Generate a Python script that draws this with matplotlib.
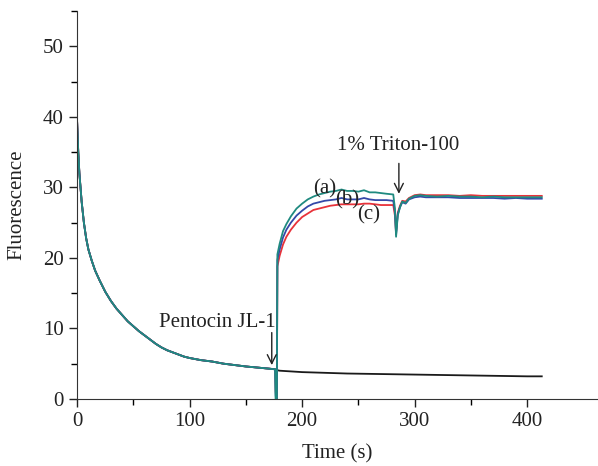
import matplotlib
matplotlib.use('Agg')
import matplotlib.pyplot as plt
from matplotlib.ticker import MultipleLocator, FixedLocator

plt.rcParams['font.family'] = ['Liberation Serif', 'DejaVu Serif']

# shared decay before pentocin addition (s, fluorescence)
t_decay = [0, 1, 2, 3, 4, 6, 8, 10, 13, 16, 20, 25, 30, 35, 40, 45, 50, 55, 60, 65,
           70, 75, 80, 85, 90, 95, 100, 110, 120, 130, 140, 150, 160, 170, 176]
f_decay = [39.2, 35.0, 32.0, 30.0, 28.0, 25.0, 22.8, 21.2, 19.6, 18.2, 16.8, 15.2, 13.9, 12.8,
           11.9, 11.0, 10.3, 9.6, 9.0, 8.4, 7.8, 7.3, 6.9, 6.6, 6.3, 6.0, 5.8, 5.5, 5.3, 5.0,
           4.8, 4.6, 4.45, 4.3, 4.2]

# control (black) after addition
t_ctrl = [177, 180, 190, 200, 220, 240, 260, 280, 300, 320, 340, 360, 380, 400, 413]
f_ctrl = [4.1, 4.0, 3.9, 3.8, 3.7, 3.6, 3.55, 3.5, 3.45, 3.4, 3.35, 3.3, 3.25, 3.2, 3.2]

# after pentocin: common time points
t_after = [176.5, 177.5, 178, 180, 183, 186, 190, 195, 200, 205, 210, 215, 220, 225, 230, 235,
           240, 245, 250, 255, 260, 265, 270, 275, 281, 282.5, 283.5, 285, 287, 289, 292, 295,
           300, 305, 310, 320, 330, 340, 350, 360, 370, 380, 390, 400, 413]
f_a = [-1, -1, 20.5, 22.0, 23.8, 24.8, 25.9, 27.0, 27.7, 28.3, 28.7, 29.0, 29.2, 29.4, 29.5, 29.7,
       29.5, 29.5, 29.4, 29.6, 29.3, 29.3, 29.2, 29.1, 29.0, 27.0, 23.0, 26.0, 27.2, 28.0, 27.8, 28.4,
       28.8, 28.9, 28.8, 28.7, 28.8, 28.7, 28.7, 28.6, 28.7, 28.6, 28.6, 28.6, 28.6]
f_b = [0.5, -1, 19.7, 21.2, 22.9, 24.0, 25.0, 26.0, 26.7, 27.3, 27.7, 27.9, 28.1, 28.2, 28.3, 28.5,
       28.3, 28.3, 28.3, 28.5, 28.3, 28.2, 28.2, 28.2, 28.1, 26.5, 23.3, 26.2, 27.2, 27.9, 27.7, 28.3,
       28.6, 28.7, 28.6, 28.6, 28.6, 28.5, 28.5, 28.5, 28.5, 28.4, 28.5, 28.4, 28.4]
f_c = [1.0, -1, 18.8, 20.3, 21.9, 23.0, 24.0, 25.0, 25.8, 26.3, 26.8, 27.0, 27.2, 27.4, 27.5, 27.6,
       27.6, 27.6, 27.6, 27.7, 27.7, 27.6, 27.5, 27.5, 27.5, 26.0, 23.6, 26.4, 27.4, 28.1, 28.0, 28.5,
       28.9, 29.0, 28.9, 28.9, 28.9, 28.8, 28.9, 28.8, 28.8, 28.8, 28.8, 28.8, 28.8]

fig = plt.figure(figsize=(5.98, 4.66), dpi=100)
ax = fig.add_axes([0.129, 0.144, 0.871, 0.832])

lw = 1.3
ax.plot(t_decay + t_ctrl, f_decay + f_ctrl, color='#1a1a1a', lw=lw)
ax.plot(t_decay + t_after, f_decay + f_c, color='#e8323a', lw=lw)
ax.plot(t_decay + t_after, f_decay + f_b, color='#3448a8', lw=lw)
ax.plot(t_decay + t_after, f_decay + f_a, color='#1f8a80', lw=lw)

ax.set_xlim(0, 463)
ax.set_ylim(0, 55)
ax.xaxis.set_major_locator(MultipleLocator(100))
ax.xaxis.set_minor_locator(FixedLocator([50, 150, 250, 350]))
ax.yaxis.set_major_locator(MultipleLocator(10))
ax.yaxis.set_minor_locator(MultipleLocator(5))
ax.tick_params(which='major', direction='out', length=6, width=1, labelsize=15, colors='#222222')
ax.tick_params(which='minor', direction='out', length=4, width=1)
ax.spines['top'].set_visible(False)
ax.spines['right'].set_visible(False)
for s in ('left', 'bottom'):
    ax.spines[s].set_color('#333333')

ax.set_xlabel('Time (s)', fontsize=15, color='#222222')
ax.set_ylabel('Fluorescence', fontsize=15, color='#222222')
ax.yaxis.set_label_coords(-0.098, 0.5)
ax.xaxis.set_label_coords(0.5, -0.118)

# annotations
fs = 15
arrow = dict(arrowstyle='->', color='#222222', lw=1, mutation_scale=16)
ax.annotate('', xy=(173, 4.4), xytext=(173, 9.8), arrowprops=arrow)
ax.text(125, 10.9, 'Pentocin JL-1', fontsize=fs, ha='center', va='center', color='#222222')
ax.annotate('', xy=(286, 28.7), xytext=(286, 33.8), arrowprops=arrow)
ax.text(285, 36.0, '1% Triton-100', fontsize=fs, ha='center', va='center', color='#222222')
ax.text(220, 29.8, '(a)', fontsize=fs, ha='center', va='center', color='#222222')
ax.text(240, 28.2, '(b)', fontsize=fs, ha='center', va='center', color='#222222')
ax.text(259, 26.1, '(c)', fontsize=fs, ha='center', va='center', color='#222222')

plt.savefig('out.png', dpi=100)
